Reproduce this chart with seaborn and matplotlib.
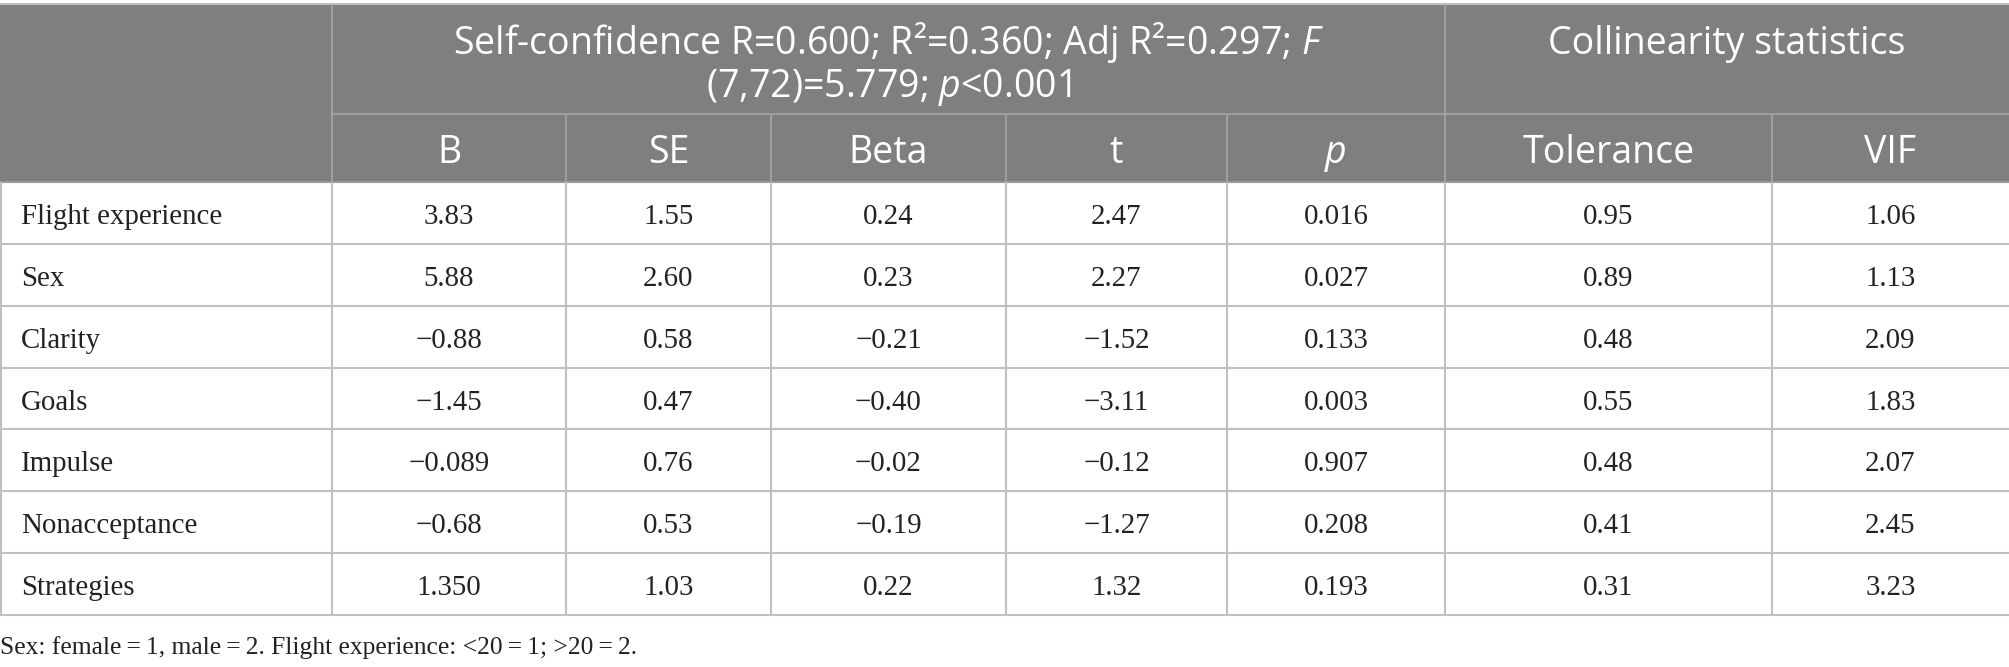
import numpy as np
import pandas as pd
import matplotlib
matplotlib.use("Agg")
import matplotlib.pyplot as plt
import seaborn as sns

# ==========================================
# DATA
# ==========================================
predictors = ["Flight experience", "Sex", "Clarity", "Goals", "Impulse",
              "Nonacceptance", "Strategies"]
col_B = ["3.83", "5.88", "\u22120.88", "\u22121.45", "\u22120.089", "\u22120.68", "1.350"]
col_SE = ["1.55", "2.60", "0.58", "0.47", "0.76", "0.53", "1.03"]
col_beta = ["0.24", "0.23", "\u22120.21", "\u22120.40", "\u22120.02", "\u22120.19", "0.22"]
col_t = ["2.47", "2.27", "\u22121.52", "\u22123.11", "\u22120.12", "\u22121.27", "1.32"]
col_p = ["0.016", "0.027", "0.133", "0.003", "0.907", "0.208", "0.193"]
col_tol = ["0.95", "0.89", "0.48", "0.55", "0.48", "0.41", "0.31"]
col_vif = ["1.06", "1.13", "2.09", "1.83", "2.07", "2.45", "3.23"]

sub_headers = ["B", "SE", "Beta", "t", "p", "Tolerance", "VIF"]
group1 = ["Self-confidence R=0.600; R\u00b2=0.360; Adj R\u00b2=0.297; $\\mathit{F}$",
          "(7,72)=5.779; $\\mathit{p}$<0.001"]
group2 = "Collinearity statistics"
footnote = "Sex: female\u2009=\u20091, male\u2009=\u20092. Flight experience: <20\u2009=\u20091; >20\u2009=\u20092."

table = pd.DataFrame({"B": col_B, "SE": col_SE, "Beta": col_beta, "t": col_t,
                      "p": col_p, "Tolerance": col_tol, "VIF": col_vif},
                     index=predictors)

# ==========================================
# STYLE
# ==========================================
sns.set_theme(style="white")
plt.rcParams["mathtext.fontset"] = "custom"
plt.rcParams["mathtext.rm"] = "Open Sans"
plt.rcParams["mathtext.it"] = "Open Sans:italic"

W, H = 2009, 667
HEAD_BG = "#7f807e"
HEAD_LINE = "#a6a6a6"
BODY_LINE = "#c0c0c0"
head_font = ["Open Sans", "DejaVu Sans"]
body_font = ["Liberation Serif", "DejaVu Serif"]
HEAD_SIZE = 27
BODY_SIZE = 20.8

col_edges = [0, 332, 566, 771, 1006, 1227, 1445, 1772, 2009]
y_top, y_mid, y_head = 4, 114, 182
y_bottom = 615
n_rows = len(predictors)
row_h = (y_bottom - y_head) / n_rows

fig = plt.figure(figsize=(W / 100, H / 100), dpi=100)
ax = fig.add_axes([0, 0, 1, 1])
ax.set_xlim(0, W)
ax.set_ylim(H, 0)
ax.axis("off")

# header background
ax.add_patch(plt.Rectangle((0, y_top), W, y_head - y_top, color=HEAD_BG, lw=0, zorder=0))

# header lines
ax.hlines(y_top, 0, W, color=BODY_LINE, lw=1.5)
ax.hlines(y_mid, col_edges[1], W, color=HEAD_LINE, lw=1.2)
for x in [col_edges[1], col_edges[6]]:
    ax.vlines(x, y_top, y_mid, color=HEAD_LINE, lw=1.2)
for x in col_edges[1:-1]:
    ax.vlines(x, y_mid, y_head, color=HEAD_LINE, lw=1.2)

# header text
cx_group1 = (col_edges[1] + col_edges[6]) / 2
cx_group2 = (col_edges[6] + col_edges[8]) / 2
ax.text(cx_group1, 54, group1[0], ha="center", va="baseline", color="white",
        fontsize=HEAD_SIZE, family=head_font)
ax.text(cx_group1, 97, group1[1], ha="center", va="baseline", color="white",
        fontsize=HEAD_SIZE, family=head_font)
ax.text(cx_group2, 54, group2, ha="center", va="baseline", color="white",
        fontsize=HEAD_SIZE, family=head_font)
for i, lab in enumerate(sub_headers):
    cx = (col_edges[i + 1] + col_edges[i + 2]) / 2
    ax.text(cx, 163, lab, ha="center", va="baseline", color="white", fontsize=HEAD_SIZE,
            family=head_font, fontstyle="italic" if lab == "p" else "normal")

# body lines
for i in range(n_rows + 1):
    y = y_head + i * row_h
    ax.hlines(y, 0, W, color=BODY_LINE if i else "#9a9a9a", lw=1.5)
ax.vlines(1, y_head, y_bottom, color=BODY_LINE, lw=1.5)
for x in col_edges[1:-1]:
    ax.vlines(x, y_head, y_bottom, color=BODY_LINE, lw=1.5)

# body text
for r, name in enumerate(table.index):
    base = y_head + r * row_h + 42
    ax.text(21, base, name, ha="left", va="baseline", color="#222222",
            fontsize=BODY_SIZE, family=body_font)
    for c, col in enumerate(table.columns):
        cx = (col_edges[c + 1] + col_edges[c + 2]) / 2
        ax.text(cx, base, table.loc[name, col], ha="center", va="baseline",
                color="#222222", fontsize=BODY_SIZE, family=body_font)

# footnote
ax.text(0, 654, footnote, ha="left", va="baseline", color="#222222",
        fontsize=18.4, family=body_font)

fig.savefig("out.png", dpi=100)
